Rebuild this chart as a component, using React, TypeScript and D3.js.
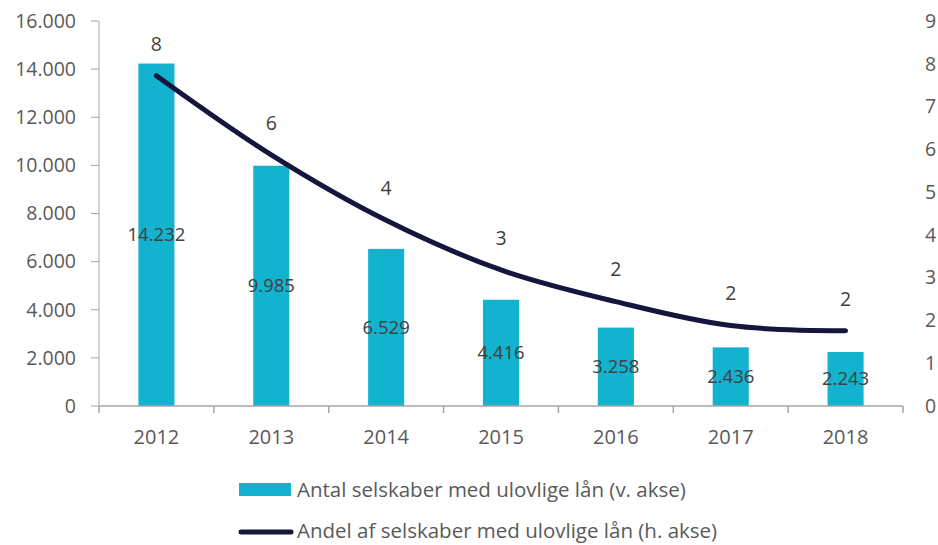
import { useEffect, useRef } from 'react';
import * as d3 from 'd3';

const years = ['2012', '2013', '2014', '2015', '2016', '2017', '2018'];
const antal = [14232, 9985, 6529, 4416, 3258, 2436, 2243];
const andel = [7.72, 5.87, 4.34, 3.18, 2.44, 1.88, 1.76];
const andelLabels = ['8', '6', '4', '3', '2', '2', '2'];
const leftTicks = [0, 2000, 4000, 6000, 8000, 10000, 12000, 14000, 16000];
const rightTicks = [0, 1, 2, 3, 4, 5, 6, 7, 8, 9];

const BAR_COLOR = '#13b2ce';
const LINE_COLOR = '#15153d';
const TEXT_COLOR = '#595959';
const AXIS_COLOR = '#a6a6a6';
const FONT = '"Open Sans", "Noto Sans", sans-serif';

const fmt = (v: number) => d3.format(',')(v).replace(/,/g, '.');

export default function App() {
  const svgRef = useRef<SVGSVGElement>(null);

  useEffect(() => {
    if (!svgRef.current) return;
    const width = 938;
    const height = 545;
    const margin = { top: 21, right: 35, bottom: 139, left: 99 };
    const innerW = width - margin.left - margin.right;
    const innerH = height - margin.top - margin.bottom;

    const svg = d3.select(svgRef.current);
    svg.selectAll('*').remove();
    svg.attr('width', width).attr('height', height);

    const g = svg.append('g').attr('transform', `translate(${margin.left},${margin.top})`);

    const x = d3.scaleBand().domain(years).range([0, innerW]).paddingInner(0.686).paddingOuter(0.343);
    const xc = (d: string) => (x(d) ?? 0) + x.bandwidth() / 2;
    const yL = d3.scaleLinear().domain([0, 16000]).range([innerH, 0]);
    const yR = d3.scaleLinear().domain([0, 9]).range([innerH, 0]);
    const step = innerW / years.length;

    // left axis
    g.append('line').attr('x1', 0).attr('x2', 0).attr('y1', 0).attr('y2', innerH)
      .attr('stroke', AXIS_COLOR).attr('stroke-width', 1);
    g.selectAll('line.lt').data(leftTicks).enter().append('line')
      .attr('x1', -8).attr('x2', 0)
      .attr('y1', d => yL(d)).attr('y2', d => yL(d))
      .attr('stroke', AXIS_COLOR);
    g.selectAll('text.lt').data(leftTicks).enter().append('text')
      .attr('x', -23).attr('y', d => yL(d)).attr('dy', '0.35em')
      .attr('text-anchor', 'end').attr('font-family', FONT).attr('font-size', 19.5)
      .attr('fill', TEXT_COLOR).text(d => fmt(d));

    // right axis labels
    g.selectAll('text.rt').data(rightTicks).enter().append('text')
      .attr('x', innerW + 22).attr('y', d => yR(d)).attr('dy', '0.35em')
      .attr('text-anchor', 'start').attr('font-family', FONT).attr('font-size', 19.5)
      .attr('fill', TEXT_COLOR).text(d => String(d));

    // bars
    g.selectAll('rect.bar').data(antal).enter().append('rect')
      .attr('x', (_, i) => x(years[i]) ?? 0)
      .attr('y', d => yL(d))
      .attr('width', x.bandwidth())
      .attr('height', d => innerH - yL(d))
      .attr('fill', BAR_COLOR);

    // x axis
    g.append('line').attr('x1', 0).attr('x2', innerW).attr('y1', innerH).attr('y2', innerH)
      .attr('stroke', AXIS_COLOR).attr('stroke-width', 1.5);
    g.selectAll('line.xt').data(d3.range(years.length + 1)).enter().append('line')
      .attr('x1', d => d * step).attr('x2', d => d * step)
      .attr('y1', innerH).attr('y2', innerH + 7)
      .attr('stroke', AXIS_COLOR).attr('stroke-width', 1.5);
    g.selectAll('text.xl').data(years).enter().append('text')
      .attr('x', d => xc(d)).attr('y', innerH + 38)
      .attr('text-anchor', 'middle').attr('font-family', FONT).attr('font-size', 20)
      .attr('fill', TEXT_COLOR).text(d => d);

    // bar value labels
    g.selectAll('text.bv').data(antal).enter().append('text')
      .attr('x', (_, i) => xc(years[i]))
      .attr('y', d => (yL(d) + innerH) / 2).attr('dy', '0.35em')
      .attr('text-anchor', 'middle').attr('font-family', FONT).attr('font-size', 18.5)
      .attr('fill', '#404040').text(d => fmt(d));

    // line
    const line = d3.line<number>()
      .x((_, i) => xc(years[i]))
      .y(d => yR(d))
      .curve(d3.curveCatmullRom.alpha(0.5));
    g.append('path').datum(andel).attr('d', line)
      .attr('fill', 'none').attr('stroke', LINE_COLOR).attr('stroke-width', 5)
      .attr('stroke-linecap', 'round').attr('stroke-linejoin', 'round');

    g.selectAll('text.lv').data(andel).enter().append('text')
      .attr('x', (_, i) => xc(years[i]))
      .attr('y', d => yR(d) - 32).attr('dy', '0.35em')
      .attr('text-anchor', 'middle').attr('font-family', FONT).attr('font-size', 19.5)
      .attr('fill', '#404040').text((_, i) => andelLabels[i]);

    // legend
    const lg = svg.append('g');
    lg.append('rect').attr('x', 239).attr('y', 483).attr('width', 52).attr('height', 13).attr('fill', BAR_COLOR);
    lg.append('text').attr('x', 297).attr('y', 497).attr('font-family', FONT).attr('font-size', 20.5)
      .attr('fill', TEXT_COLOR).text('Antal selskaber med ulovlige lån (v. akse)');
    lg.append('line').attr('x1', 241).attr('x2', 291).attr('y1', 532).attr('y2', 532)
      .attr('stroke', LINE_COLOR).attr('stroke-width', 5).attr('stroke-linecap', 'round');
    lg.append('text').attr('x', 297).attr('y', 538).attr('font-family', FONT).attr('font-size', 20.5)
      .attr('fill', TEXT_COLOR).text('Andel af selskaber med ulovlige lån (h. akse)');
  }, []);

  return (
    <div style={{ position: 'absolute', left: 0, top: 0, background: '#fff' }}>
      <svg ref={svgRef} style={{ display: 'block' }} />
    </div>
  );
}
